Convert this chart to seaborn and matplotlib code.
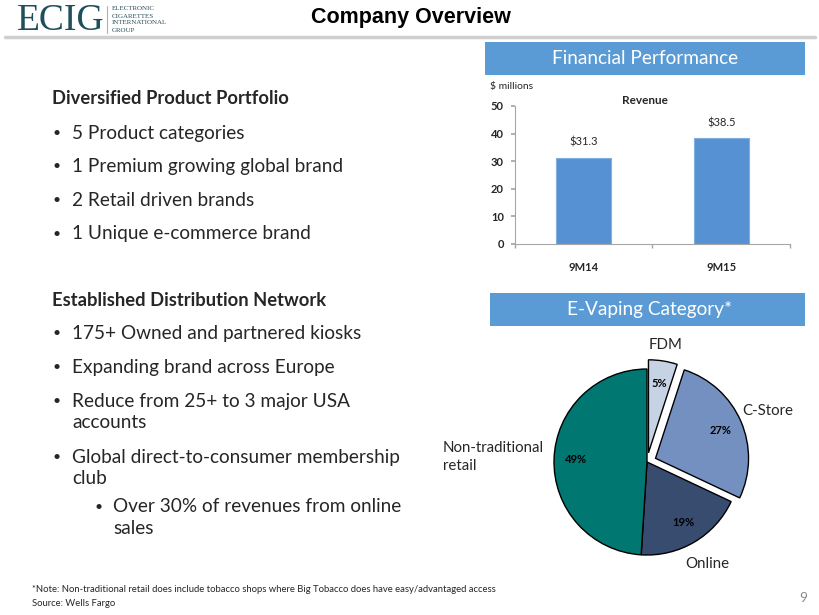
import numpy as np
import pandas as pd
import seaborn as sns
import matplotlib.pyplot as plt
from matplotlib.patches import Rectangle

# Data
periods = ["9M14", "9M15"]
revenue = [31.3, 38.5]
rev_labels = ["$31.3", "$38.5"]

channels = ["FDM", "C-Store", "Online", "Non-traditional\nretail"]
channel_share = [5, 27, 19, 49]
channel_colors = ["#c6d3e5", "#7490c0", "#374c6e", "#007770"]
channel_explode = [0.1, 0.1, 0, 0]

portfolio_items = ["5 Product categories", "1 Premium growing global brand",
                   "2 Retail driven brands", "1 Unique e-commerce brand"]

sns.set_theme(style="white")
plt.rcParams['font.family'] = ['Lato', 'DejaVu Sans']

W, H = 820, 615
fig = plt.figure(figsize=(8.2, 6.15), dpi=100)
fig.patch.set_facecolor("white")


def ftext(x, y, s, **kw):
    # place text using pixel coords measured from top-left
    return fig.text(x / W, 1 - y / H, s, **kw)


def fbox(x0, y0, x1, y1, color):
    fig.patches.append(Rectangle((x0 / W, 1 - y1 / H), (x1 - x0) / W, (y1 - y0) / H,
                                 transform=fig.transFigure, facecolor=color,
                                 edgecolor="none", zorder=0))


# ---- header ----
ftext(17, 21, "ECIG", family="Liberation Serif", fontsize=27, color="#1f4f5c",
      va="center", ha="left")
fig.add_artist(plt.Line2D([107 / W, 107 / W], [1 - 6 / H, 1 - 33 / H],
                          transform=fig.transFigure, color="#b0b0b0", lw=0.8))
for i, w in enumerate(["ELECTRONIC", "CIGARETTES", "INTERNATIONAL", "GROUP"]):
    ftext(112, 9 + i * 7, w, family="Liberation Serif", fontsize=5, color="#2b4f5c",
          va="center", ha="left")
ftext(411, 17, "Company Overview", family="Liberation Sans", fontweight="bold",
      fontsize=15.5, ha="center", va="center", color="black")
fig.add_artist(plt.Line2D([5 / W, 815 / W], [1 - 37 / H, 1 - 37 / H],
                          transform=fig.transFigure, color="#cfcfcf", lw=2.5))

# ---- left text ----
BODY = 13.7
ftext(52, 99, "Diversified Product Portfolio", fontsize=13.2, fontweight="bold", va="center")
for i, item in enumerate(portfolio_items):
    y = 133 + i * 33.5
    ftext(53, y, "•", fontsize=10, va="center")
    ftext(72, y, item, fontsize=BODY, va="center")

ftext(52, 300, "Established Distribution Network", fontsize=13.2, fontweight="bold", va="center")
dist_lines = [(333, "175+ Owned and partnered kiosks", True),
              (367, "Expanding brand across Europe", True),
              (401, "Reduce from 25+ to 3 major USA", True),
              (423, "accounts", False),
              (457, "Global direct-to-consumer membership", True),
              (479, "club", False)]
for y, s, bullet in dist_lines:
    if bullet:
        ftext(53, y, "•", fontsize=10, va="center")
    ftext(72, y, s, fontsize=BODY, va="center")
ftext(95, 507, "•", fontsize=10, va="center")
ftext(113, 507, "Over 30% of revenues from online", fontsize=BODY, va="center")
ftext(113, 529, "sales", fontsize=BODY, va="center")

# ---- footer ----
ftext(32, 590, "*Note: Non-traditional retail does include tobacco shops where Big Tobacco does have easy/advantaged access",
      fontsize=6.8, va="center")
ftext(32, 603, "Source: Wells Fargo", fontsize=6.8, va="center")
ftext(803, 598, "9", fontsize=10, color="#8a8a8a", va="center", ha="center")

# ---- section headers ----
fbox(485, 42, 805, 75, "#5b9bd5")
ftext(645, 59, "Financial Performance", fontsize=13.7, color="white", ha="center", va="center")
fbox(490, 293, 805, 326, "#5b9bd5")
ftext(650, 310, "E-Vaping Category*", fontsize=13.7, color="white", ha="center", va="center")

# ---- revenue bar chart ----
ax = fig.add_axes([515 / W, 1 - 244 / H, 275 / W, 138 / H])
df = pd.DataFrame({"period": periods, "revenue": revenue})
sns.barplot(data=df, x="period", y="revenue", color="#5591d3", width=0.4,
            edgecolor="#7fb0e0", linewidth=0.8, saturation=1, ax=ax)
ax.set_xlim(-0.5, 1.5)
ax.set_ylim(0, 50)
ax.set_yticks(range(0, 51, 10))
ax.set_xlabel("")
ax.set_ylabel("")
ax.set_facecolor("white")
for side in ["top", "right"]:
    ax.spines[side].set_visible(False)
for side in ["left", "bottom"]:
    ax.spines[side].set_color("#a6a6a6")
    ax.spines[side].set_linewidth(0.8)
ax.tick_params(axis="y", left=True, length=3, color="#a6a6a6", labelsize=8, pad=5)
ax.tick_params(axis="x", bottom=False, labelsize=8, pad=7)
ax.set_xticks([-0.5, 0.5, 1.5], minor=True)
ax.tick_params(axis="x", which="minor", bottom=True, length=3, color="#a6a6a6")
for lbl in ax.get_xticklabels() + ax.get_yticklabels():
    lbl.set_fontweight("bold")
for i, (v, s) in enumerate(zip(revenue, rev_labels)):
    ax.annotate(s, (i, v), xytext=(0, 7), textcoords="offset points",
                ha="center", va="bottom", fontsize=8)
ftext(645, 101, "Revenue", fontsize=8.5, fontweight="bold", ha="center", va="center")
ftext(490, 87, "$ millions", fontsize=7.5, ha="left", va="center")

# ---- e-vaping pie ----
R = 93
pax = fig.add_axes([(647 - 130) / W, (615 - 462 - 130) / H, 260 / W, 260 / H])
wedges, _, autotexts = pax.pie(channel_share, colors=channel_colors,
                               explode=[e * R for e in channel_explode],
                               startangle=90, counterclock=False, radius=R,
                               autopct=lambda p: f"{p:.0f}%", pctdistance=0.76,
                               wedgeprops=dict(edgecolor="black", linewidth=1),
                               textprops=dict(fontsize=8, fontweight="bold", color="black"))
pax.set_xlim(-130, 130)
pax.set_ylim(-130, 130)
pax.set_aspect("equal")
pax.axis("off")

label_dist = [1.27, 1.38, 1.28, 1.67]
label_ha = ["center", "left", "center", "left"]
for w, name, d, ha in zip(wedges, channels, label_dist, label_ha):
    ang = np.deg2rad((w.theta1 + w.theta2) / 2)
    x, y = d * R * np.cos(ang), d * R * np.sin(ang)
    if ha == "left" and name.startswith("Non"):
        x = -204
    elif ha == "left":
        x = R + 2
    pax.text(x, y, name, ha=ha, va="center", fontsize=10.8, linespacing=1.35)

fig.savefig("out.png", dpi=100, facecolor="white")
